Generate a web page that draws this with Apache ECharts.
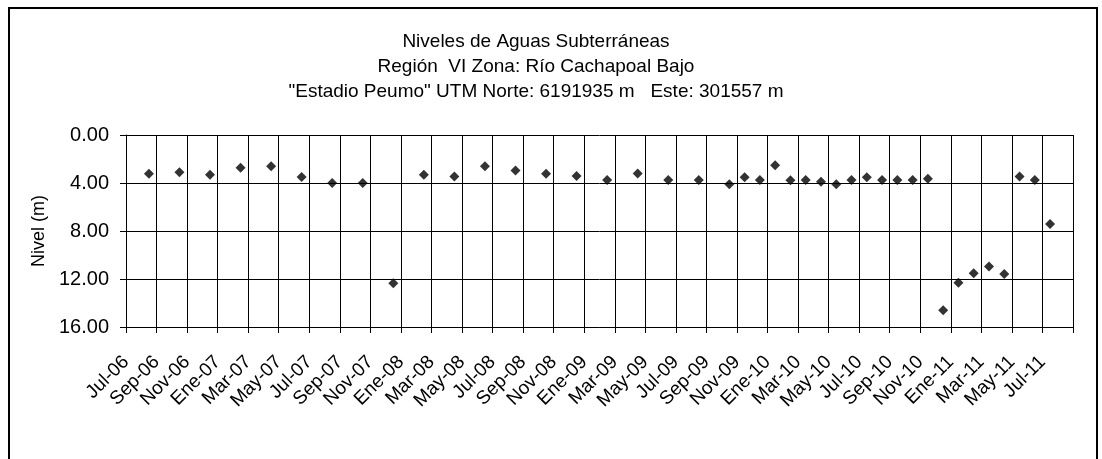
<!DOCTYPE html>
<html>
<head>
<meta charset="utf-8">
<script src="https://cdn.jsdelivr.net/npm/echarts@6/dist/echarts.min.js"></script>
<style>
html, body { margin: 0; padding: 0; background: #fff; }
#myChart { width: 1102px; height: 459px; }
</style>
</head>
<body>
<div id="myChart"></div>
<script>
// meses de medición (año-mes) y nivel en metros
let fechas = ['2006-08', '2006-10', '2006-12', '2007-02', '2007-04', '2007-06', '2007-08', '2007-10', '2007-12',
    '2008-02', '2008-04', '2008-06', '2008-08', '2008-10', '2008-12', '2009-02', '2009-04', '2009-06', '2009-08',
    '2009-10', '2009-11', '2009-12', '2010-01', '2010-02', '2010-03', '2010-04', '2010-05', '2010-06', '2010-07',
    '2010-08', '2010-09', '2010-10', '2010-11', '2010-12', '2011-01', '2011-02', '2011-03', '2011-04', '2011-05',
    '2011-06', '2011-07']
let niveles = [3.22, 3.11, 3.31, 2.72, 2.61, 3.50, 4.00, 4.00, 12.36,
    3.31, 3.45, 2.61, 2.95, 3.22, 3.42, 3.75, 3.20, 3.75, 3.75,
    4.11, 3.53, 3.75, 2.53, 3.78, 3.75, 3.89, 4.11, 3.75, 3.53,
    3.75, 3.75, 3.75, 3.64, 14.61, 12.31, 11.53, 10.95, 11.59, 3.45,
    3.75, 7.42]
// etiquetas del eje x, cada 2 meses desde Jul-06
let etiquetas = ['Jul-06', 'Sep-06', 'Nov-06', 'Ene-07', 'Mar-07', 'May-07', 'Jul-07', 'Sep-07', 'Nov-07',
    'Ene-08', 'Mar-08', 'May-08', 'Jul-08', 'Sep-08', 'Nov-08', 'Ene-09', 'Mar-09', 'May-09', 'Jul-09',
    'Sep-09', 'Nov-09', 'Ene-10', 'Mar-10', 'May-10', 'Jul-10', 'Sep-10', 'Nov-10', 'Ene-11', 'Mar-11',
    'May-11', 'Jul-11']
let titulo = ['Niveles de Aguas Subterráneas',
    'Región  VI Zona: Río Cachapoal Bajo',
    '"Estadio Peumo" UTM Norte: 6191935 m   Este: 301557 m']

// meses contados desde julio 2006, punto al centro del mes
function mesIndex(f) {
    let p = f.split('-')
    return (parseInt(p[0]) - 2006) * 12 + (parseInt(p[1]) - 7) + 0.5
}
let datos = fechas.map((f, i) => [mesIndex(f), niveles[i]])

let fuente = 'Liberation Sans, Arial, sans-serif'
let myChart = echarts.init(document.getElementById('myChart'))
let option = {
    animation: false,
    textStyle: { fontFamily: fuente },
    graphic: [{
        type: 'rect',
        shape: { x: 9, y: 8, width: 1088, height: 470 },
        style: { fill: 'none', stroke: '#000', lineWidth: 2 },
        silent: true
    }, {
        // titulo de tres lineas
        type: 'text',
        x: 536,
        y: 29,
        silent: true,
        style: {
            text: titulo.join('\n'),
            align: 'center',
            verticalAlign: 'top',
            fontFamily: fuente,
            fontSize: 19,
            lineHeight: 25,
            fill: '#000'
        }
    }],
    grid: {
        left: 126,
        top: 135,
        right: 29,
        bottom: 132
    },
    xAxis: {
        type: 'value',
        min: 0,
        max: 62,
        interval: 2,
        axisLine: { show: true, onZero: false, lineStyle: { color: '#000', width: 1 } },
        axisTick: { show: true, length: 6, lineStyle: { color: '#000' } },
        splitLine: { show: true, lineStyle: { color: '#000', width: 1 } },
        axisLabel: {
            rotate: 45,
            margin: 32,
            color: '#000',
            fontSize: 19,
            fontFamily: fuente,
            formatter: function (v) {
                return etiquetas[Math.round(v / 2)] || ''
            }
        }
    },
    yAxis: {
        type: 'value',
        inverse: true,
        min: 0,
        max: 16,
        interval: 4,
        name: 'Nivel (m)',
        nameLocation: 'middle',
        nameGap: 77,
        nameTextStyle: { color: '#000', fontSize: 18, fontFamily: fuente },
        axisLine: { show: true, lineStyle: { color: '#000', width: 1 } },
        axisTick: { show: true, length: 6, lineStyle: { color: '#000' } },
        splitLine: { show: true, lineStyle: { color: '#000', width: 1 } },
        axisLabel: {
            color: '#000',
            fontSize: 20,
            fontFamily: fuente,
            margin: 17,
            formatter: function (v) { return v.toFixed(2) }
        }
    },
    series: [{
        name: 'Nivel',
        type: 'scatter',
        symbol: 'diamond',
        symbolSize: 10,
        itemStyle: { color: '#000' },
        data: datos
    }]
}
myChart.setOption(option)
</script>
</body>
</html>
